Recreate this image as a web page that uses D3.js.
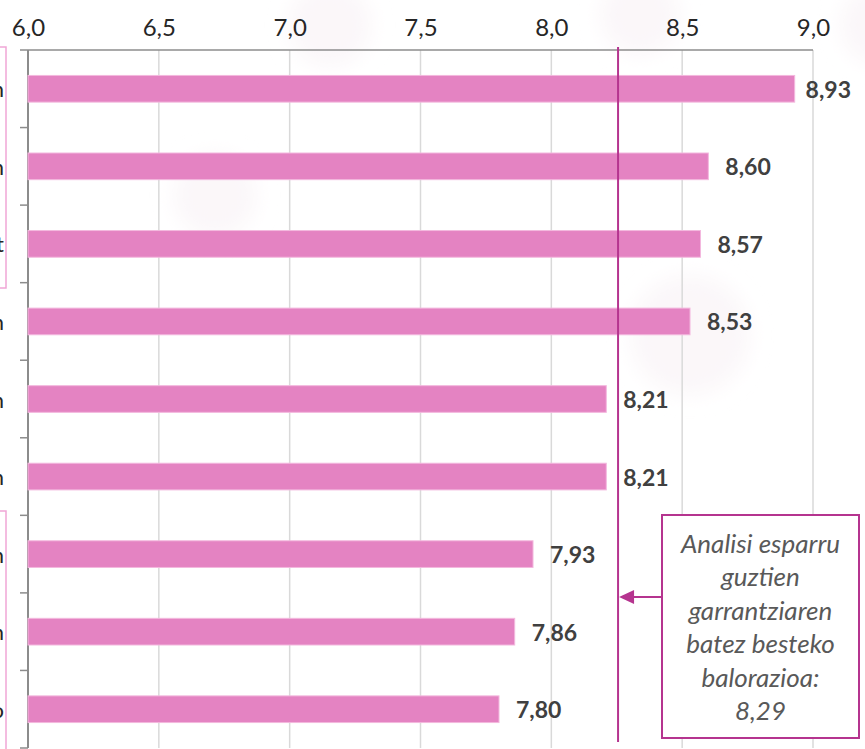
<!DOCTYPE html>
<html>
<head>
<meta charset="utf-8">
<script src="https://cdn.jsdelivr.net/npm/d3@7"></script>
<style>
  html, body { margin: 0; padding: 0; background: #fff; }
  svg { display: block; }
</style>
</head>
<body>
<svg id="chart" width="865" height="749"></svg>
<script>
// ---- data ----
// category labels are cut off at the left edge of the reference; only their last letters are visible
const categories = ["n", "n", "t", "n", "n", "n", "n", "n", "o"];
const values = [8.93, 8.60, 8.57, 8.53, 8.21, 8.21, 7.93, 7.86, 7.80];
const tickValues = [6.0, 6.5, 7.0, 7.5, 8.0, 8.5, 9.0];
const tickLabels = ["6,0", "6,5", "7,0", "7,5", "8,0", "8,5", "9,0"];
const averageLinePosition = [8.255];
const annotationLines = ["Analisi esparru", "guztien", "garrantziaren", "batez besteko", "balorazioa:", "8,29"];

(function () {
const mLeft = 28, mRight = 813, mTop = 50, mBottom = 748;
const svg = d3.select("#chart");
const fmt = v => v.toFixed(2).replace(".", ",");
const idx = d3.range(categories.length);

// faint background blobs
const defs = svg.append("defs");
defs.append("filter").attr("id", "blur").append("feGaussianBlur").attr("stdDeviation", 10);
const blobs = [[330, 25, 42], [215, 195, 42], [690, 335, 60], [640, 15, 40], [880, 25, 40]];
svg.append("g").attr("filter", "url(#blur)")
  .selectAll("circle").data(blobs).join("circle")
  .attr("cx", d => d[0]).attr("cy", d => d[1]).attr("r", d => d[2])
  .attr("fill", "#fbf7f9");

const x = d3.scaleLinear().domain([6, 9]).range([mLeft, mRight]);
const y = d3.scaleBand().domain(idx).range([mTop, mBottom]).paddingInner(0.656).paddingOuter(0.328);
const yBand = d3.scaleBand().domain(idx).range([mTop, mBottom]);

// gridlines
svg.append("g").selectAll("line").data(tickValues.slice(1)).join("line")
  .attr("x1", d => x(d)).attr("x2", d => x(d))
  .attr("y1", mTop).attr("y2", mBottom)
  .attr("stroke", "#d9d9d9").attr("stroke-width", 1.5);

// top axis
const xAxis = d3.axisTop(x).tickValues(tickValues).tickFormat((d, i) => tickLabels[i]).tickSize(0).tickPadding(14);
const gx = svg.append("g").attr("transform", `translate(0,${mTop})`).call(xAxis);
gx.select(".domain").attr("stroke", "#8c8c8c").attr("stroke-width", 1.5).attr("d", `M20,0H${mRight}`);
gx.selectAll("text").attr("font-family", "Lato, 'Open Sans', sans-serif").attr("font-size", 24).attr("fill", "#262626");

// left axis with band boundary ticks
const gy = svg.append("g");
gy.append("line").attr("x1", mLeft).attr("x2", mLeft).attr("y1", mTop).attr("y2", mBottom)
  .attr("stroke", "#8c8c8c").attr("stroke-width", 2);
gy.selectAll("line.tk").data(idx).join("line").attr("class", "tk")
  .attr("x1", 20).attr("x2", mLeft)
  .attr("y1", d => yBand(d) + yBand.bandwidth()).attr("y2", d => yBand(d) + yBand.bandwidth())
  .attr("stroke", "#8c8c8c").attr("stroke-width", 1.5);

// cut-off category labels (as in the reference)
svg.append("g").selectAll("text").data(idx).join("text")
  .attr("x", 4).attr("y", d => y(d) + y.bandwidth() / 2)
  .attr("text-anchor", "end").attr("dominant-baseline", "central")
  .attr("font-family", "Lato, sans-serif").attr("font-size", 22).attr("fill", "#262626")
  .text(d => categories[d]);

// left pink boxes
svg.append("rect").attr("x", -20).attr("y", 47).attr("width", 26).attr("height", 241)
  .attr("fill", "none").attr("stroke", "#f0a6d6").attr("stroke-width", 1.5);
svg.append("rect").attr("x", -20).attr("y", 511).attr("width", 26).attr("height", 260)
  .attr("fill", "none").attr("stroke", "#f0a6d6").attr("stroke-width", 1.5);

// bars
svg.append("g").selectAll("rect").data(values).join("rect")
  .attr("x", x(6)).attr("y", (d, i) => y(i))
  .attr("width", d => x(d) - x(6)).attr("height", y.bandwidth())
  .attr("fill", "#e483c2").attr("stroke", "#f3b8de").attr("stroke-width", 1);

// value labels
svg.append("g").selectAll("text").data(values).join("text")
  .attr("y", (d, i) => y(i) + y.bandwidth() / 2)
  .attr("dominant-baseline", "central")
  .attr("font-family", "Lato, 'Open Sans', sans-serif").attr("font-weight", "bold").attr("font-size", 23)
  .attr("fill", "#404040")
  .text(d => fmt(d))
  .attr("x", function (d) {
    const w = this.getComputedTextLength();
    return Math.min(x(d) + 17, 851 - w);
  });

// average vertical line
const avgX = x(averageLinePosition[0]);
svg.append("line").attr("x1", avgX).attr("x2", avgX).attr("y1", 47).attr("y2", 742)
  .attr("stroke", "#b5348f").attr("stroke-width", 2);

// annotation box
const box = { x: 662, y: 515, w: 197, h: 223 };
svg.append("rect").attr("x", box.x).attr("y", box.y).attr("width", box.w).attr("height", box.h)
  .attr("fill", "#fff").attr("stroke", "#b5348f").attr("stroke-width", 2);
svg.append("g").selectAll("text").data(annotationLines).join("text")
  .attr("x", box.x + box.w / 2).attr("y", (d, i) => 543 + i * 33.4)
  .attr("text-anchor", "middle").attr("dominant-baseline", "central")
  .attr("font-family", "Lato, 'Open Sans', sans-serif").attr("font-style", "italic").attr("font-size", 26)
  .attr("fill", "#595959")
  .text(d => d);

// arrow
const ay = 597;
svg.append("line").attr("x1", box.x).attr("x2", avgX + 12).attr("y1", ay).attr("y2", ay)
  .attr("stroke", "#b5348f").attr("stroke-width", 2);
svg.append("path")
  .attr("d", `M${avgX + 1},${ay} L${avgX + 16},${ay - 7} L${avgX + 16},${ay + 7} Z`)
  .attr("fill", "#b5348f");
})();
</script>
</body>
</html>
